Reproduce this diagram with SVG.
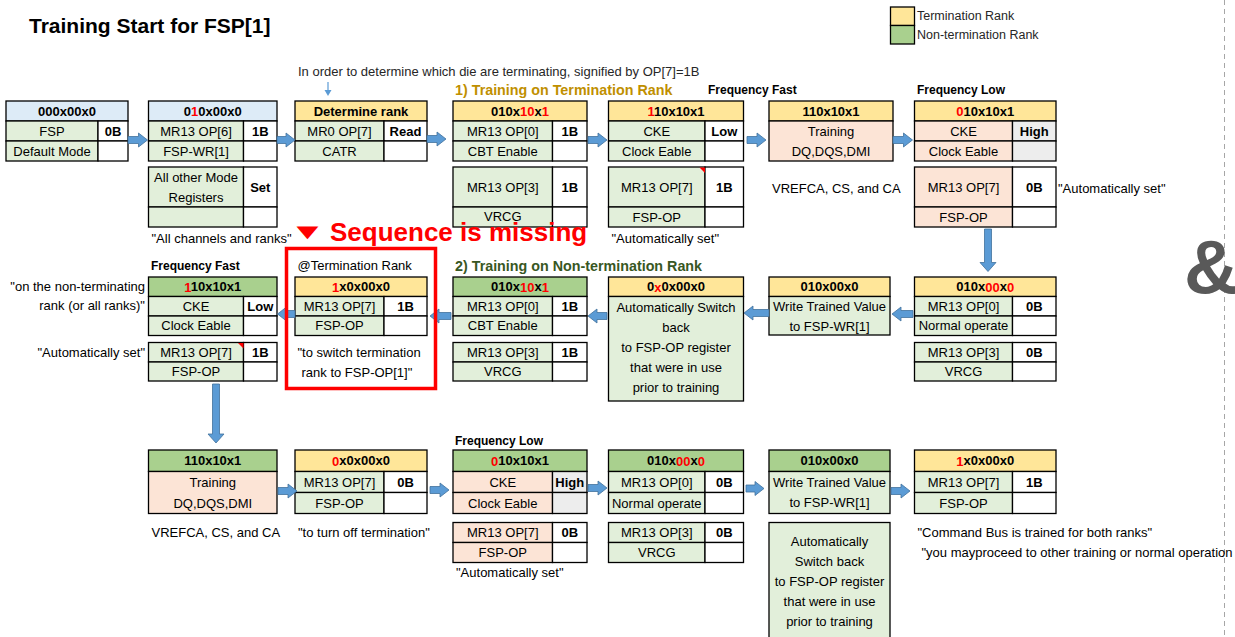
<svg xmlns="http://www.w3.org/2000/svg" width="1235" height="637" viewBox="0 0 1235 637">
<style>
.t{font-family:"Liberation Sans",Arial,sans-serif;font-size:13px;fill:#000;text-anchor:middle;dominant-baseline:central}
.b{font-weight:bold}
.l{text-anchor:start}
.r{text-anchor:end}
.red{fill:#FF0000}
.n rect{stroke:#000;stroke-width:1.3}
.hy{fill:#FFE699}
.hg{fill:#A9D08E}
.hb{fill:#DDEBF7}
.g{fill:#E2EFDA}
.p{fill:#FCE4D6}
.w{fill:#FFFFFF}
.gy{fill:#EDEDED}
.lab{font-family:"Liberation Sans",Arial,sans-serif;font-size:12px;font-weight:bold;fill:#000}
.sec{font-family:"Liberation Sans",Arial,sans-serif;font-size:14.3px;font-weight:bold}
.arr{fill:#5B9BD5;stroke:#41719C;stroke-width:0.8}
.cmt{fill:#FF0000}
</style>
<rect x="0" y="0" width="1235" height="637" fill="#FFFFFF"/>
<line x1="1224.5" y1="0" x2="1224.5" y2="637" stroke="#A6A6A6" stroke-width="1" stroke-dasharray="5 4"/>
<text x="1184" y="293" style="font-family:'Liberation Sans',Arial,sans-serif;font-size:76px;font-weight:bold;fill:#595959">&amp;</text>
<text x="29" y="33" style="font-family:'Liberation Sans',Arial,sans-serif;font-size:21px;font-weight:bold;fill:#000">Training Start for FSP[1]</text>

<g id="legend" class="n">
<rect class="hy" x="890.5" y="7" width="24" height="18.5"/>
<rect class="hg" x="890.5" y="25.5" width="24" height="18.5"/>
<text class="t l" x="917" y="16" style="font-size:12.5px;fill:#262626">Termination Rank</text>
<text class="t l" x="917" y="35" style="font-size:12.5px;fill:#262626">Non-termination Rank</text>
</g>

<text class="t l" x="298" y="71" style="fill:#262626">In order to determine which die are terminating, signified by OP[7]=1B</text>
<text class="sec l" x="455" y="95" style="fill:#BF8F00">1) Training on Termination Rank</text>
<text class="sec l" x="455" y="271" style="fill:#385723">2) Training on Non-termination Rank</text>

<!-- Row 1 -->
<g id="node-fsp-default" class="n">
<rect class="hb" x="6" y="101" width="122" height="20"/>
<rect class="g" x="6" y="121" width="92" height="20"/>
<rect class="w" x="98" y="121" width="30" height="20"/>
<rect class="g" x="6" y="141" width="92" height="20"/>
<rect class="w" x="98" y="141" width="30" height="20"/>
<text class="t b" x="67" y="111">000x00x0</text>
<text class="t" x="52" y="131">FSP</text>
<text class="t b" x="113" y="131">0B</text>
<text class="t" x="52" y="151">Default Mode</text>
</g>

<g id="node-fsp-wr1" class="n">
<rect class="hb" x="148.5" y="101" width="128.5" height="20"/>
<rect class="g" x="148.5" y="121" width="95" height="20"/>
<rect class="w" x="243.5" y="121" width="33.5" height="20"/>
<rect class="g" x="148.5" y="141" width="95" height="20"/>
<rect class="w" x="243.5" y="141" width="33.5" height="20"/>
<rect class="g" x="148.5" y="167" width="95" height="40"/>
<rect class="w" x="243.5" y="167" width="33.5" height="40"/>
<rect class="g" x="148.5" y="207" width="95" height="20"/>
<rect class="w" x="243.5" y="207" width="33.5" height="20"/>
<text class="t b" x="212.75" y="111">0<tspan class="red">1</tspan>0x00x0</text>
<text class="t" x="196" y="131">MR13 OP[6]</text>
<text class="t b" x="260.25" y="131">1B</text>
<text class="t" x="196" y="151">FSP-WR[1]</text>
<text class="t" x="196" y="177.5">All other Mode</text>
<text class="t" x="196" y="197.5">Registers</text>
<text class="t b" x="260.25" y="187">Set</text>
<text class="t l" x="151.5" y="238">"All channels and ranks"</text>
</g>

<g id="node-determine-rank" class="n">
<rect class="hy" x="295" y="101" width="132" height="20"/>
<rect class="g" x="295" y="121" width="89" height="20"/>
<rect class="w" x="384" y="121" width="43" height="20"/>
<rect class="g" x="295" y="141" width="89" height="20"/>
<rect class="w" x="384" y="141" width="43" height="20"/>
<text class="t b" x="361" y="111">Determine rank</text>
<text class="t" x="339.5" y="131">MR0 OP[7]</text>
<text class="t b" x="405.5" y="131">Read</text>
<text class="t" x="339.5" y="151">CATR</text>
</g>

<g id="node-cbt-term" class="n">
<rect class="hy" x="453" y="101" width="134" height="20"/>
<rect class="g" x="453" y="121" width="99.5" height="20"/>
<rect class="w" x="552.5" y="121" width="34.5" height="20"/>
<rect class="g" x="453" y="141" width="99.5" height="20"/>
<rect class="w" x="552.5" y="141" width="34.5" height="20"/>
<rect class="g" x="453" y="167" width="99.5" height="40"/>
<rect class="w" x="552.5" y="167" width="34.5" height="40"/>
<rect class="g" x="453" y="207" width="99.5" height="20"/>
<rect class="w" x="552.5" y="207" width="34.5" height="20"/>
<text class="t b" x="520" y="111">010x<tspan class="red">10</tspan>x<tspan class="red">1</tspan></text>
<text class="t" x="502.75" y="131">MR13 OP[0]</text>
<text class="t b" x="569.75" y="131">1B</text>
<text class="t" x="502.75" y="151">CBT Enable</text>
<text class="t" x="502.75" y="187">MR13 OP[3]</text>
<text class="t b" x="569.75" y="187">1B</text>
<text class="t" x="502.75" y="216.5">VRCG</text>
</g>

<g id="node-cke-low-term" class="n">
<text class="lab" x="708" y="94">Frequency Fast</text>
<rect class="hy" x="608.5" y="101" width="135" height="20"/>
<rect class="g" x="608.5" y="121" width="96.5" height="20"/>
<rect class="w" x="705" y="121" width="38.5" height="20"/>
<rect class="g" x="608.5" y="141" width="96.5" height="20"/>
<rect class="w" x="705" y="141" width="38.5" height="20"/>
<rect class="g" x="608.5" y="167" width="96.5" height="40"/>
<rect class="w" x="705" y="167" width="38.5" height="40"/>
<rect class="g" x="608.5" y="207" width="96.5" height="20"/>
<rect class="w" x="705" y="207" width="38.5" height="20"/>
<polygon class="cmt" points="699.5,167.5 705,167.5 705,173"/>
<text class="t b" x="676" y="111"><tspan class="red">1</tspan>10x10x1</text>
<text class="t" x="656.75" y="131">CKE</text>
<text class="t b" x="724.25" y="131">Low</text>
<text class="t" x="656.75" y="151">Clock Eable</text>
<text class="t" x="656.75" y="187">MR13 OP[7]</text>
<text class="t b" x="724.25" y="187">1B</text>
<text class="t" x="656.75" y="217">FSP-OP</text>
<text class="t l" x="611.5" y="238">"Automatically set"</text>
</g>

<g id="node-training-term" class="n">
<rect class="hy" x="769" y="101" width="124" height="20"/>
<rect class="p" x="769" y="121" width="124" height="40"/>
<text class="t b" x="831" y="111">110x10x1</text>
<text class="t" x="831" y="131">Training</text>
<text class="t" x="831" y="151">DQ,DQS,DMI</text>
<text class="t l" x="772" y="188">VREFCA, CS, and CA</text>
</g>

<g id="node-cke-high-term" class="n">
<text class="lab" x="917" y="94">Frequency Low</text>
<rect class="hy" x="914.5" y="101" width="141.5" height="20"/>
<rect class="p" x="914.5" y="121" width="98" height="20"/>
<rect class="gy" x="1012.5" y="121" width="43.5" height="20"/>
<rect class="p" x="914.5" y="141" width="98" height="20"/>
<rect class="gy" x="1012.5" y="141" width="43.5" height="20"/>
<rect class="p" x="914.5" y="167" width="98" height="40"/>
<rect class="w" x="1012.5" y="167" width="43.5" height="40"/>
<rect class="p" x="914.5" y="207" width="98" height="20"/>
<rect class="w" x="1012.5" y="207" width="43.5" height="20"/>
<text class="t b" x="985.25" y="111"><tspan class="red">0</tspan>10x10x1</text>
<text class="t" x="963.5" y="131">CKE</text>
<text class="t b" x="1034.25" y="131">High</text>
<text class="t" x="963.5" y="151">Clock Eable</text>
<text class="t" x="963.5" y="187">MR13 OP[7]</text>
<text class="t b" x="1034.25" y="187">0B</text>
<text class="t" x="963.5" y="217">FSP-OP</text>
<text class="t l" x="1058" y="188">"Automatically set"</text>
</g>

<!-- Row 2 -->
<g id="node-normal-term" class="n">
<rect class="hy" x="914.5" y="277" width="141.5" height="19.5"/>
<rect class="g" x="914.5" y="296.5" width="98" height="19.5"/>
<rect class="w" x="1012.5" y="296.5" width="43.5" height="19.5"/>
<rect class="g" x="914.5" y="316" width="98" height="19.5"/>
<rect class="w" x="1012.5" y="316" width="43.5" height="19.5"/>
<rect class="g" x="914.5" y="342.5" width="98" height="19.5"/>
<rect class="w" x="1012.5" y="342.5" width="43.5" height="19.5"/>
<rect class="g" x="914.5" y="362" width="98" height="19"/>
<rect class="w" x="1012.5" y="362" width="43.5" height="19"/>
<text class="t b" x="985.25" y="286.75">010x<tspan class="red">00</tspan>x<tspan class="red">0</tspan></text>
<text class="t" x="963.5" y="306.25">MR13 OP[0]</text>
<text class="t b" x="1034.25" y="306.25">0B</text>
<text class="t" x="963.5" y="325.75">Normal operate</text>
<text class="t" x="963.5" y="352.25">MR13 OP[3]</text>
<text class="t b" x="1034.25" y="352.25">0B</text>
<text class="t" x="963.5" y="371.5">VRCG</text>
</g>

<g id="node-write-fspwr-term" class="n">
<rect class="hy" x="769" y="277" width="121" height="19.5"/>
<rect class="g" x="769" y="296.5" width="121" height="38.5"/>
<text class="t b" x="829.5" y="286.75">010x00x0</text>
<text class="t" x="829.5" y="306.5">Write Trained Value</text>
<text class="t" x="829.5" y="326">to FSP-WR[1]</text>
</g>

<g id="node-switch-back-term" class="n">
<rect class="hy" x="608.5" y="277" width="135" height="19.5"/>
<rect class="g" x="608.5" y="296.5" width="135" height="104.5"/>
<text class="t b" x="676" y="286.75">0<tspan class="red">x</tspan>0x00x0</text>
<text class="t" x="676" y="307.7">Automatically Switch</text>
<text class="t" x="676" y="327.7">back</text>
<text class="t" x="676" y="347.7">to FSP-OP register</text>
<text class="t" x="676" y="367.7">that were in use</text>
<text class="t" x="676" y="387.7">prior to training</text>
</g>

<g id="node-cbt-nonterm" class="n">
<rect class="hg" x="453" y="277" width="134" height="19.5"/>
<rect class="g" x="453" y="296.5" width="99.5" height="19.5"/>
<rect class="w" x="552.5" y="296.5" width="34.5" height="19.5"/>
<rect class="g" x="453" y="316" width="99.5" height="19.5"/>
<rect class="w" x="552.5" y="316" width="34.5" height="19.5"/>
<rect class="g" x="453" y="342.5" width="99.5" height="19.5"/>
<rect class="w" x="552.5" y="342.5" width="34.5" height="19.5"/>
<rect class="g" x="453" y="362" width="99.5" height="19"/>
<rect class="w" x="552.5" y="362" width="34.5" height="19"/>
<text class="t b" x="520" y="286.75">010x<tspan class="red">10</tspan>x<tspan class="red">1</tspan></text>
<text class="t" x="502.75" y="306.25">MR13 OP[0]</text>
<text class="t b" x="569.75" y="306.25">1B</text>
<text class="t" x="502.75" y="325.75">CBT Enable</text>
<text class="t" x="502.75" y="352.25">MR13 OP[3]</text>
<text class="t b" x="569.75" y="352.25">1B</text>
<text class="t" x="502.75" y="371.5">VRCG</text>
</g>

<g id="node-fspop1-term" class="n">
<text class="t l" x="297.5" y="265">@Termination Rank</text>
<rect class="hy" x="295" y="277" width="132" height="19.5"/>
<rect class="g" x="295" y="296.5" width="89" height="19.5"/>
<rect class="w" x="384" y="296.5" width="43" height="19.5"/>
<rect class="g" x="295" y="316" width="89" height="19.5"/>
<rect class="w" x="384" y="316" width="43" height="19.5"/>
<text class="t b" x="361" y="286.75"><tspan class="red">1</tspan>x0x00x0</text>
<text class="t" x="339.5" y="306.25">MR13 OP[7]</text>
<text class="t b" x="405.5" y="306.25">1B</text>
<text class="t" x="339.5" y="325.75">FSP-OP</text>
<text class="t l" x="297.5" y="352.7">"to switch termination</text>
<text class="t l" x="301.5" y="372.7">rank to FSP-OP[1]"</text>
</g>

<g id="node-cke-low-nonterm" class="n">
<text class="lab" x="151" y="270">Frequency Fast</text>
<text class="t r" x="145" y="286.7">"on the non-terminating</text>
<text class="t r" x="145" y="305.7">rank (or all ranks)"</text>
<text class="t r" x="145" y="352">"Automatically set"</text>
<rect class="hg" x="148.5" y="277" width="128.5" height="19.5"/>
<rect class="g" x="148.5" y="296.5" width="95" height="19.5"/>
<rect class="w" x="243.5" y="296.5" width="33.5" height="19.5"/>
<rect class="g" x="148.5" y="316" width="95" height="19.5"/>
<rect class="w" x="243.5" y="316" width="33.5" height="19.5"/>
<rect class="g" x="148.5" y="342.5" width="95" height="19.5"/>
<rect class="w" x="243.5" y="342.5" width="33.5" height="19.5"/>
<rect class="g" x="148.5" y="362" width="95" height="19"/>
<rect class="w" x="243.5" y="362" width="33.5" height="19"/>
<polygon class="cmt" points="238,343 243.5,343 243.5,348.5"/>
<text class="t b" x="212.75" y="286.75"><tspan class="red">1</tspan>10x10x1</text>
<text class="t" x="196" y="306.25">CKE</text>
<text class="t b" x="260.25" y="306.25">Low</text>
<text class="t" x="196" y="325.75">Clock Eable</text>
<text class="t" x="196" y="352.25">MR13 OP[7]</text>
<text class="t b" x="260.25" y="352.25">1B</text>
<text class="t" x="196" y="371.5">FSP-OP</text>
</g>

<!-- Row 3 -->
<g id="node-training-nonterm" class="n">
<rect class="hg" x="148.5" y="450" width="128.5" height="21.5"/>
<rect class="p" x="148.5" y="471.5" width="128.5" height="42"/>
<text class="t b" x="212.75" y="460.75">110x10x1</text>
<text class="t" x="212.75" y="482.5">Training</text>
<text class="t" x="212.75" y="503">DQ,DQS,DMI</text>
<text class="t l" x="151.5" y="532.7">VREFCA, CS, and CA</text>
</g>

<g id="node-fspop0-term" class="n">
<rect class="hy" x="295" y="450" width="132" height="21.5"/>
<rect class="g" x="295" y="471.5" width="89" height="21"/>
<rect class="w" x="384" y="471.5" width="43" height="21"/>
<rect class="g" x="295" y="492.5" width="89" height="21"/>
<rect class="w" x="384" y="492.5" width="43" height="21"/>
<text class="t b" x="361" y="460.75"><tspan class="red">0</tspan>x0x00x0</text>
<text class="t" x="339.5" y="482">MR13 OP[7]</text>
<text class="t b" x="405.5" y="482">0B</text>
<text class="t" x="339.5" y="503">FSP-OP</text>
<text class="t l" x="298" y="532.7">"to turn off termination"</text>
</g>

<g id="node-cke-high-nonterm" class="n">
<text class="lab" x="455" y="445">Frequency Low</text>
<rect class="hg" x="453" y="450" width="134" height="21.5"/>
<rect class="p" x="453" y="471.5" width="99.5" height="21"/>
<rect class="gy" x="552.5" y="471.5" width="34.5" height="21"/>
<rect class="p" x="453" y="492.5" width="99.5" height="21"/>
<rect class="gy" x="552.5" y="492.5" width="34.5" height="21"/>
<rect class="p" x="453" y="522.5" width="99.5" height="20"/>
<rect class="w" x="552.5" y="522.5" width="34.5" height="20"/>
<rect class="p" x="453" y="542.5" width="99.5" height="20"/>
<rect class="w" x="552.5" y="542.5" width="34.5" height="20"/>
<text class="t b" x="520" y="460.75"><tspan class="red">0</tspan>10x10x1</text>
<text class="t" x="502.75" y="482">CKE</text>
<text class="t b" x="569.75" y="482">High</text>
<text class="t" x="502.75" y="503">Clock Eable</text>
<text class="t" x="502.75" y="532.5">MR13 OP[7]</text>
<text class="t b" x="569.75" y="532.5">0B</text>
<text class="t" x="502.75" y="552.5">FSP-OP</text>
<text class="t l" x="456" y="572.3">"Automatically set"</text>
</g>

<g id="node-normal-nonterm" class="n">
<rect class="hg" x="608.5" y="450" width="135" height="21.5"/>
<rect class="g" x="608.5" y="471.5" width="96.5" height="21"/>
<rect class="w" x="705" y="471.5" width="38.5" height="21"/>
<rect class="g" x="608.5" y="492.5" width="96.5" height="21"/>
<rect class="w" x="705" y="492.5" width="38.5" height="21"/>
<rect class="g" x="608.5" y="522.5" width="96.5" height="20"/>
<rect class="w" x="705" y="522.5" width="38.5" height="20"/>
<rect class="g" x="608.5" y="542.5" width="96.5" height="20"/>
<rect class="w" x="705" y="542.5" width="38.5" height="20"/>
<text class="t b" x="676" y="460.75">010x<tspan class="red">00</tspan>x<tspan class="red">0</tspan></text>
<text class="t" x="656.75" y="482">MR13 OP[0]</text>
<text class="t b" x="724.25" y="482">0B</text>
<text class="t" x="656.75" y="503">Normal operate</text>
<text class="t" x="656.75" y="532.5">MR13 OP[3]</text>
<text class="t b" x="724.25" y="532.5">0B</text>
<text class="t" x="656.75" y="552.5">VRCG</text>
</g>

<g id="node-write-fspwr-nonterm" class="n">
<rect class="hg" x="769" y="450" width="121" height="21.5"/>
<rect class="g" x="769" y="471.5" width="121" height="42"/>
<rect class="g" x="769" y="522.5" width="121" height="122"/>
<text class="t b" x="829.5" y="460.75">010x00x0</text>
<text class="t" x="829.5" y="482">Write Trained Value</text>
<text class="t" x="829.5" y="502.5">to FSP-WR[1]</text>
<text class="t" x="829.5" y="541.7">Automatically</text>
<text class="t" x="829.5" y="561.5">Switch back</text>
<text class="t" x="829.5" y="581.5">to FSP-OP register</text>
<text class="t" x="829.5" y="601.3">that were in use</text>
<text class="t" x="829.5" y="621">prior to training</text>
</g>

<g id="node-fspop1-final" class="n">
<rect class="hy" x="914.5" y="450" width="141.5" height="21.5"/>
<rect class="g" x="914.5" y="471.5" width="98" height="21"/>
<rect class="w" x="1012.5" y="471.5" width="43.5" height="21"/>
<rect class="g" x="914.5" y="492.5" width="98" height="21"/>
<rect class="w" x="1012.5" y="492.5" width="43.5" height="21"/>
<text class="t b" x="985.25" y="460.75"><tspan class="red">1</tspan>x0x00x0</text>
<text class="t" x="963.5" y="482">MR13 OP[7]</text>
<text class="t b" x="1034.25" y="482">1B</text>
<text class="t" x="963.5" y="503">FSP-OP</text>
<text class="t l" x="917.5" y="532.7">"Command Bus is trained for both ranks"</text>
<text class="t l" x="921.5" y="552.7">"you mayproceed to other training or normal operation</text>
</g>

<g id="connectors">
<line x1="328" y1="82" x2="328" y2="91" stroke="#5B9BD5" stroke-width="1.2"/>
<polygon points="324.5,90 331.5,90 328,96" fill="#5B9BD5"/>
<path class="arr" d="M128 136.5 H138.5 V133 L147.5 140 L138.5 147 V143.5 H128 Z"/>
<path class="arr" d="M277 136.5 H286 V133 L295 140 L286 147 V143.5 H277 Z"/>
<path class="arr" d="M427 135.5 H437 V132 L446 139 L437 146 V142.5 H427 Z"/>
<path class="arr" d="M588 136.5 H598 V133 L607 140 L598 147 V143.5 H588 Z"/>
<path class="arr" d="M747 136.5 H757 V133 L766 140 L757 147 V143.5 H747 Z"/>
<path class="arr" d="M893 136.5 H903.5 V133 L912.5 140 L903.5 147 V143.5 H893 Z"/>
<path class="arr" d="M984.5 229 V262.5 H980 L988 271.5 L996 262.5 H991.5 V229 Z"/>
<path class="arr" d="M913 310.5 H901 V307 L892 314 L901 321 V317.5 H913 Z"/>
<path class="arr" d="M769 309.5 H753 V306 L744 313 L753 320 V316.5 H769 Z"/>
<path class="arr" d="M607 312.5 H597 V309 L588 316 L597 323 V319.5 H607 Z"/>
<path class="arr" d="M451 312.5 H439 V309 L430 316 L439 323 V319.5 H451 Z"/>
<path class="arr" d="M295 310.5 H286.5 V307 L277.5 314 L286.5 321 V317.5 H295 Z"/>
<path class="arr" d="M212.5 384 V434 H208 L216 443 L224 434 H219.5 V384 Z"/>
<path class="arr" d="M278 487.5 H288 V484 L297 491 L288 498 V494.5 H278 Z"/>
<path class="arr" d="M430 486.5 H440 V483 L449 490 L440 497 V493.5 H430 Z"/>
<path class="arr" d="M588 484.5 H598 V481 L607 488 L598 495 V491.5 H588 Z"/>
<path class="arr" d="M746 485 H755 V481.5 L764 488.5 L755 495.5 V492 H746 Z"/>
<path class="arr" d="M891 487.5 H901 V484 L910 491 L901 498 V494.5 H891 Z"/>
</g>

<g id="missing-annotation">
<rect x="286.5" y="248.5" width="149" height="140" fill="none" stroke="#FF0000" stroke-width="3.5"/>
<text transform="translate(289,238.5) scale(1.7,1)" style="font-family:'Liberation Sans',Arial,sans-serif;font-size:22px;fill:#FF0000">▼</text>
<text x="330" y="241" style="font-family:'Liberation Sans',Arial,sans-serif;font-size:26px;font-weight:bold;fill:#FF0000">Sequence is missing</text>
</g>
</svg>
